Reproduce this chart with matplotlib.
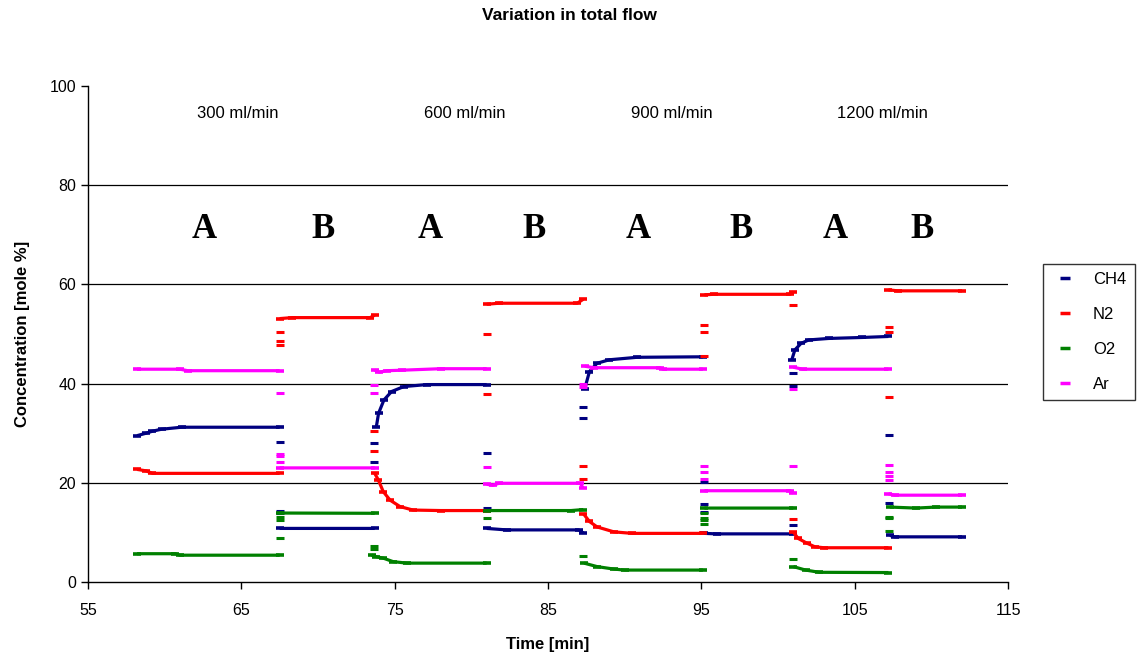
import numpy as np
import matplotlib
matplotlib.use("Agg")
import matplotlib.pyplot as plt
from matplotlib.lines import Line2D

plt.rcParams['font.family'] = ['Liberation Sans', 'DejaVu Sans']

nan = np.nan

# switch-over times between gas mixtures A and B
switch_t = [67.5, 73.65, 81.0, 87.3, 95.2, 101.0, 107.25]

# steady / settling parts, segments separated by nan
ch4_t = [58.2, 58.8, 59.2, 59.8, 61.1, 67.5, nan,
         67.5, 73.7, nan,
         73.8, 73.95, 74.3, 74.8, 75.6, 77.1, 81.0, nan,
         81.0, 82.3, 87.0, 87.3, nan,
         87.4, 87.7, 88.2, 89.0, 90.8, 95.1, nan,
         95.2, 96.0, 101.0, nan,
         100.9, 101.1, 101.5, 102.0, 103.3, 105.5, 107.2, nan,
         107.3, 107.6, 112.0]
ch4_v = [29.5, 30.0, 30.4, 30.8, 31.2, 31.2, nan,
         10.8, 10.8, nan,
         31.2, 34.0, 36.7, 38.4, 39.4, 39.8, 39.8, nan,
         10.8, 10.5, 10.5, 9.9, nan,
         39.0, 42.4, 44.1, 44.8, 45.3, 45.4, nan,
         9.8, 9.7, 9.7, nan,
         44.8, 46.8, 48.1, 48.8, 49.1, 49.3, 49.5, nan,
         9.4, 9.1, 9.1]

n2_t = [58.2, 58.8, 59.2, 67.5, nan,
        67.5, 68.3, 73.4, 73.7, nan,
        73.7, 73.93, 74.26, 74.7, 75.35, 76.2, 78.0, 81.0, nan,
        81.0, 81.8, 86.9, 87.3, nan,
        87.3, 87.7, 88.2, 89.3, 90.5, 95.1, nan,
        95.2, 95.8, 100.8, 101.0, nan,
        101.0, 101.3, 101.9, 102.4, 103.0, 107.2, nan,
        107.2, 107.8, 112.0]
n2_v = [22.7, 22.4, 21.9, 21.9, nan,
        53.1, 53.3, 53.3, 53.8, nan,
        21.9, 20.6, 18.2, 16.5, 15.2, 14.5, 14.4, 14.4, nan,
        56.0, 56.2, 56.2, 57.0, nan,
        13.8, 12.2, 11.1, 10.1, 9.8, 9.8, nan,
        57.9, 58.0, 58.0, 58.5, nan,
        10.1, 8.8, 7.8, 7.1, 6.9, 6.9, nan,
        58.9, 58.7, 58.7]

o2_t = [58.2, 60.7, 61.0, 67.5, nan,
        67.5, 73.7, nan,
        73.5, 73.8, 74.26, 74.9, 75.8, 81.0, nan,
        81.0, 86.5, 87.3, nan,
        87.35, 88.2, 89.3, 90.0, 95.1, nan,
        95.2, 101.0, nan,
        101.0, 101.8, 102.7, 107.2, nan,
        107.3, 109.0, 110.3, 112.0]
o2_v = [5.7, 5.7, 5.4, 5.4, nan,
        13.9, 13.85, nan,
        5.4, 5.1, 4.8, 4.1, 3.8, 3.8, nan,
        14.4, 14.4, 14.6, nan,
        3.8, 3.1, 2.6, 2.4, 2.4, nan,
        14.9, 14.9, nan,
        3.1, 2.4, 1.95, 1.9, nan,
        15.1, 14.9, 15.1, 15.1]

ar_t = [58.2, 61.0, 61.5, 67.5, nan,
        67.5, 73.7, nan,
        73.7, 74.0, 74.5, 75.5, 78.0, 81.0, nan,
        81.0, 81.4, 81.8, 87.1, 87.3, nan,
        87.4, 88.0, 92.3, 92.5, 95.1, nan,
        95.2, 100.8, 101.0, nan,
        101.0, 101.6, 107.2, nan,
        107.2, 107.6, 112.0]
ar_v = [42.9, 42.9, 42.6, 42.6, nan,
        23.0, 23.0, nan,
        42.7, 42.3, 42.6, 42.7, 43.0, 43.0, nan,
        19.7, 19.5, 19.9, 19.9, 18.9, nan,
        43.5, 43.2, 43.2, 42.9, 42.9, nan,
        18.4, 18.4, 17.9, nan,
        43.3, 42.9, 42.9, nan,
        17.8, 17.5, 17.5]

# scattered readings at each switch-over (one list per switch)
ch4_sw = [[28.2, 14.4, 14.0], [28.1, 24.2], [26.1, 14.9], [35.3, 33.0],
          [20.2, 15.7, 14.2], [42.1, 39.5, 11.4], [29.7, 15.9]]
n2_sw = [[50.3, 48.6, 47.7], [30.4, 26.5], [49.9, 38.0], [23.4, 20.7],
         [51.8, 50.3, 45.6], [55.8, 12.6], [51.5, 50.5, 37.2]]
o2_sw = [[13.2, 12.5, 8.8], [7.3, 6.6], [12.8], [5.2],
         [13.9, 13.0, 12.5, 11.7], [4.6], [13.2, 12.8, 10.3]]
ar_sw = [[38.2, 25.9, 25.4, 24.1], [39.7, 38.2], [23.2], [39.3, 40.0],
         [23.4, 22.1, 20.7], [39.0, 23.4], [23.6, 22.2, 21.4, 20.6]]

flow_labels = ['300 ml/min', '600 ml/min', '900 ml/min', '1200 ml/min']
flow_x = [64.8, 79.6, 93.1, 106.8]
phase_labels = ['A', 'B', 'A', 'B', 'A', 'B', 'A', 'B']
phase_x = [62.6, 70.3, 77.3, 84.1, 90.9, 97.6, 103.7, 109.4]

names = ['CH4', 'N2', 'O2', 'Ar']
colors = ['#000080', '#FF0000', '#008000', '#FF00FF']

fig = plt.figure(figsize=(11.38, 6.63), dpi=100)
ax = fig.add_axes([0.0773, 0.1222, 0.8085, 0.7481])

for y in [20, 40, 60, 80]:
    ax.axhline(y, color='black', lw=0.9, zorder=0)

series = [(ch4_t, ch4_v, ch4_sw), (n2_t, n2_v, n2_sw),
          (o2_t, o2_v, o2_sw), (ar_t, ar_v, ar_sw)]
for (t, v, sw), c in zip(series, colors):
    ax.plot(t, v, color=c, lw=2.3, solid_capstyle='butt', marker='_',
            ms=6, mew=2.6, zorder=3)
    for ts, vals in zip(switch_t, sw):
        ax.plot([ts] * len(vals), vals, ls='none', marker='_', ms=6,
                mew=2.2, color=c, zorder=3)

for lab, x in zip(flow_labels, flow_x):
    ax.text(x, 94.5, lab, ha='center', va='center', fontsize=12)
for lab, x in zip(phase_labels, phase_x):
    ax.text(x, 71, lab, ha='center', va='center', fontsize=25,
            fontweight='bold', family='Liberation Serif')

ax.set_xlim(55, 115)
ax.set_ylim(0, 100)
ax.set_xticks(range(55, 116, 10))
ax.set_yticks(range(0, 101, 20))
ax.tick_params(labelsize=11.5, length=5, width=1, color='black')
ax.spines['top'].set_visible(False)
ax.spines['right'].set_visible(False)
ax.spines['left'].set_linewidth(1)
ax.spines['bottom'].set_linewidth(1)
ax.tick_params(axis='x', pad=10)
ax.set_xlabel('Time [min]', fontsize=12, fontweight='bold', labelpad=14)
ax.set_ylabel('Concentration [mole %]', fontsize=12, fontweight='bold', labelpad=14)
fig.suptitle('Variation in total flow', fontsize=12.5, fontweight='bold', y=0.988)

handles = [Line2D([], [], ls='none', marker='_', ms=7, mew=2.5, color=c) for c in colors]
leg = ax.legend(handles, names, loc='upper left', bbox_to_anchor=(1.038, 0.642),
                frameon=True, fancybox=False, edgecolor='black', fontsize=12,
                handlelength=1.6, labelspacing=1.2, borderpad=0.5, handletextpad=0.9,
                borderaxespad=0)
leg.get_frame().set_linewidth(1)

fig.savefig('out.png', dpi=100)
